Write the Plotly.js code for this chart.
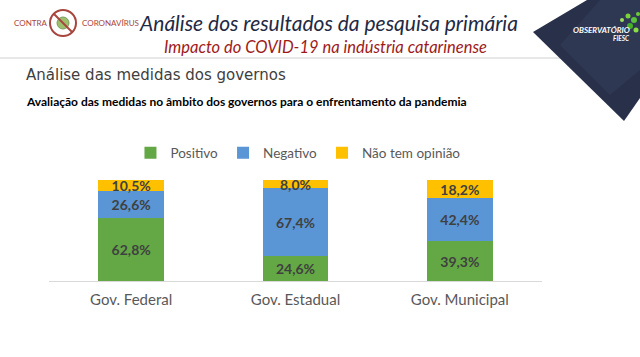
<!DOCTYPE html>
<html><head><meta charset="utf-8">
<script src="https://cdn.plot.ly/plotly-3.0.1.min.js"></script>
<style>html,body{margin:0;padding:0;background:#fff;}#chart{width:640px;height:357px;}</style>
</head><body><div id="chart"></div>
<script>
const categories = ["Gov. Federal", "Gov. Estadual", "Gov. Municipal"];
const positivo = [62.8, 24.6, 39.3];
const negativo = [26.6, 67.4, 42.4];
const semOpiniao = [10.5, 8.0, 18.2];
const seriesNames = ["Positivo", "Negativo", "Não tem opinião"];
const seriesColors = ["#63A845", "#5A95D5", "#FFC000"];

function fmt(v){ return v.toFixed(1).replace('.', ',') + '%'; }

const seriesValues = [positivo, negativo, semOpiniao];
const traces = seriesValues.map((vals, i) => ({
  type: 'bar',
  name: seriesNames[i],
  x: categories,
  y: vals,
  text: vals.map(fmt),
  textposition: 'inside',
  insidetextanchor: 'middle',
  constraintext: 'none',
  textangle: 0,
  textfont: {family: 'Lato, sans-serif', size: 14, color: '#404040', weight: 'bold'},
  marker: {color: seriesColors[i], line: {width: 0}},
  hoverinfo: 'none'
}));

function px(x){ return (x - 49) / 493; }
function py(y){ return (357 - 76 - y) / 101; }
function pathPx(pts){ return pts.map((p, i) => (i ? 'L' : 'M') + px(p[0]) + ',' + py(p[1])).join(' ') + ' Z'; }
function ann(x, y, text, size, color, anchor, family){
  return {xref: 'paper', yref: 'paper', x: px(x), y: py(y), xanchor: anchor, yanchor: 'middle',
          text: text, showarrow: false, font: {size: size, color: color, family: family || 'Lato, sans-serif'}};
}
function dot(cx, cy, r, color){
  return {type: 'circle', xref: 'paper', yref: 'paper', x0: px(cx - r), x1: px(cx + r), y0: py(cy + r), y1: py(cy - r),
          fillcolor: color, line: {width: 0}};
}

const layout = {
  width: 640, height: 357,
  margin: {l: 49, r: 98, t: 180, b: 76},
  paper_bgcolor: '#fff', plot_bgcolor: '#fff',
  barmode: 'stack', bargap: 0.6,
  font: {family: 'Lato, sans-serif', color: '#595959'},
  xaxis: {showgrid: false, zeroline: false, showline: true, linecolor: '#D9D9D9', linewidth: 1,
          ticks: '', tickfont: {size: 15, color: '#595959'}, ticklabelstandoff: 5, fixedrange: true},
  yaxis: {range: [0, 100], visible: false, fixedrange: true},
  showlegend: true,
  legend: {orientation: 'h', x: 0.505, xanchor: 'center', y: 1.267, yanchor: 'middle',
           font: {size: 13.5, color: '#595959'}, traceorder: 'normal', itemwidth: 30},
  shapes: [
    {type: 'line', xref: 'paper', yref: 'paper', x0: px(0), x1: px(563), y0: py(58), y1: py(58),
     line: {color: '#D0D0D0', width: 1}},
    {type: 'path', xref: 'paper', yref: 'paper',
     path: pathPx([[587,0],[640,0],[640,98],[624,121],[533,32]]),
     fillcolor: '#283149', line: {width: 0}},
    {type: 'path', xref: 'paper', yref: 'paper',
     path: pathPx([[600,0],[640,0],[640,70],[610,95],[560,45]]),
     fillcolor: '#2F3853', line: {width: 0}},
    dot(628, 16, 2.5, '#7CD137'), dot(634, 20, 3, '#5CC13A'), dot(630, 26, 3, '#43B02A'),
    dot(636, 30, 2.5, '#8BDB45'), dot(622, 20, 2, '#9BE05A'), dot(638, 14, 2, '#6DC93A'),
    {type: 'circle', xref: 'paper', yref: 'paper',
     x0: px(50), x1: px(76), y0: py(36), y1: py(10), line: {color: '#A8453D', width: 2}, fillcolor: 'rgba(0,0,0,0)'},
    {type: 'circle', xref: 'paper', yref: 'paper',
     x0: px(57), x1: px(69), y0: py(29), y1: py(17), line: {color: '#7BA05B', width: 1}, fillcolor: '#9CBF6E'},
    {type: 'line', xref: 'paper', yref: 'paper',
     x0: px(54), x1: px(72), y0: py(14), y1: py(32), line: {color: '#A8453D', width: 2}}
  ],
  annotations: [
    ann(328, 22, '<i>Análise dos resultados da pesquisa primária</i>', 21, '#1F2A44', 'center'),
    ann(325, 47, '<i>Impacto do COVID-19 na indústria catarinense</i>', 16.5, '#9E1A1A', 'center'),
    ann(24, 75, 'Análise das medidas dos governos', 15, '#404040', 'left', 'DejaVu Sans, sans-serif'),
    ann(24, 101, '<b>Avaliação das medidas no âmbito dos governos para o enfrentamento da pandemia</b>', 12, '#000000', 'left'),
    ann(12, 23, 'CONTRA', 8, '#A8453D', 'left'),
    ann(80, 23, 'CORONAVÍRUS', 8, '#A8453D', 'left'),
    ann(632, 30, '<b><i>OBSERVATÓRIO</i></b>', 8, '#FFFFFF', 'right'),
    ann(632, 38, '<b><i>FIESC</i></b>', 6.5, '#FFFFFF', 'right')
  ]
};

Plotly.newPlot('chart', traces, layout, {displayModeBar: false, staticPlot: true});
</script></body></html>
